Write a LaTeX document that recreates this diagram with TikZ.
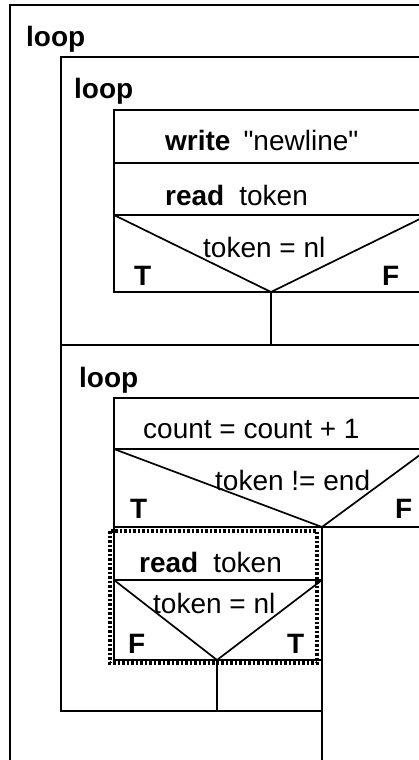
\documentclass[tikz,border=0pt]{standalone}
\usepackage{fontspec}
\setmainfont{Liberation Sans}
\begin{document}
\begin{tikzpicture}[x=1pt,y=-1pt,
  box/.style={line width=1.7pt},
  sep/.style={line width=2.6pt},
  txt/.style={anchor=base west,inner sep=0pt,font=\fontsize{28}{33}\selectfont},
  key/.style={txt,font=\fontsize{28}{33}\selectfont\bfseries},
  hilite/.style={line width=3.6pt,dash pattern=on 2.5pt off 2pt}]
\useasboundingbox (0,0) rectangle (419,760);
\clip (0,0) rectangle (419,760);
% outer loop
\draw[box] (430,5) -- (10,5) -- (10,770);
\node[key] (outerloop) at (26,47) {loop};
% first inner loop
\draw[box] (430,57) -- (61,57) -- (61,345);
\node[key] (loopA) at (74,98) {loop};
\draw[box] (430,110) -- (114,110) -- (114,292) -- (430,292);
\draw[sep] (114,163) -- (430,163);
\draw[box] (114,215) -- (430,215);
\draw[box] (114,215) -- (271,292) -- (428,215);
\draw[box] (271,292) -- (271,345);
\node[txt] (writeA) at (165,150) {\textbf{write}\hspace{13pt}\textquotedbl newline\textquotedbl};
\node[txt] (readA) at (165,205) {\textbf{read}\hspace{15pt}token};
\node[txt] (testA) at (203,257) {token = nl};
\node[key] (trueA) at (134,285) {T};
\node[key] (falseA) at (382,285) {F};
% second inner loop
\draw[sep] (61,345) -- (430,345);
\draw[box] (61,345) -- (61,711) -- (322,711);
\node[key] (loopB) at (79,387) {loop};
\draw[box] (430,398) -- (114,398) -- (114,660) -- (322,660);
\draw[sep] (114,449) -- (430,449);
\draw[box] (114,449) -- (322,527) -- (428,449);
\draw[box] (114,527) -- (430,527);
\draw[box] (322,527) -- (322,770);
\node[txt] (countB) at (143,438) {count = count + 1};
\node[txt] (testB) at (215,490) {token != end};
\node[key] (trueB) at (130,518) {T};
\node[key] (falseB) at (395,518) {F};
% highlighted part
\draw[sep] (114,580) -- (322,580);
\draw[box] (114,580) -- (217,660) -- (322,580);
\draw[box] (217,660) -- (217,711);
\draw[hilite] (110,531) rectangle (317,663);
\node[txt] (readB) at (139,572) {\textbf{read}\hspace{15pt}token};
\node[txt] (testC) at (153,613) {token = nl};
\node[key] (falseC) at (128,653) {F};
\node[key] (trueC) at (287,653) {T};
\end{tikzpicture}
\end{document}
